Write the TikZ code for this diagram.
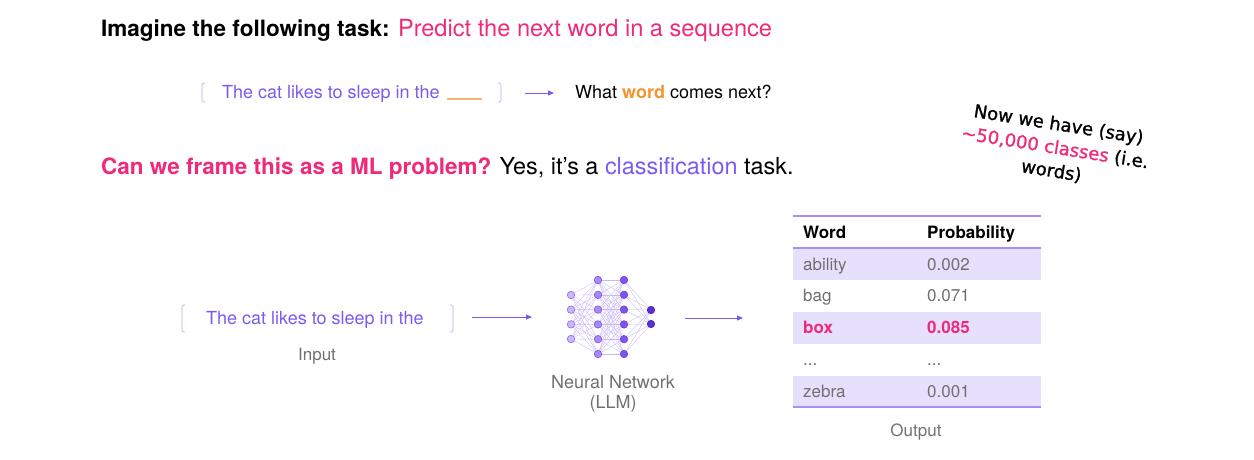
\documentclass[tikz,border=0pt]{standalone}
\usepackage{fontspec}
\setmainfont{TeX Gyre Heros}
\newfontfamily\handfont[FakeBold=1.2]{DejaVu Sans}
\usetikzlibrary{arrows.meta}
\definecolor{pinkc}{HTML}{EE2A7B}
\definecolor{purp}{HTML}{7A5AF0}
\definecolor{orng}{HTML}{F39530}
\definecolor{orngl}{HTML}{F7B46A}
\definecolor{rowshade}{HTML}{E6E0FC}
\definecolor{tline}{HTML}{A98EF5}
\definecolor{grayt}{HTML}{707070}
\definecolor{brk}{HTML}{B9ABEE}
\definecolor{edgec}{HTML}{C9B9F7}
\definecolor{nfA}{HTML}{C9B7F8}
\definecolor{ndA}{HTML}{8E6CF0}
\definecolor{nfB}{HTML}{A88AF2}
\definecolor{ndB}{HTML}{7A55EA}
\definecolor{nfC}{HTML}{7D55EA}
\definecolor{ndC}{HTML}{6A40E0}
\definecolor{nfD}{HTML}{5A30D0}
\definecolor{ndD}{HTML}{4A22C0}
\newcommand\myfs[1]{\fontsize{#1}{#1}\selectfont}
\begin{document}
\begin{tikzpicture}[x=1pt,y=-1pt,
  txt/.style={inner sep=0pt, anchor=base west},
  ctxt/.style={inner sep=0pt, anchor=base},
  bracket/.style={draw=brk, line width=0.7pt, rounded corners=1.5pt},
  arr/.style={draw=purp, line width=0.9pt, -{Triangle[length=6pt,width=5pt]}},
  hand/.style={inner sep=0pt, rotate=-9, align=center, font=\handfont\fontsize{18}{23.5}\selectfont},
  cell/.style={inner sep=0pt, anchor=base west, font=\myfs{17}, text=grayt},
  hcell/.style={inner sep=0pt, anchor=base west, font=\myfs{17}\bfseries, text=black},
  neuron/.style={circle, inner sep=0pt, minimum size=7.5pt, line width=0.6pt},
  syn/.style={draw=edgec, line width=0.35pt}
]
\useasboundingbox (0,0) rectangle (1254,459);

% title
\node[txt] (title) at (101,36) {\myfs{22.5}\bfseries Imagine the following task: \myfs{23.6}\mdseries\color{pinkc}Predict the next word in a sequence};

% line 2
\draw[bracket] (205,83) -- (202,83) -- (202,102) -- (205,102);
\draw[bracket] (498,83) -- (501,83) -- (501,102) -- (498,102);
\node[txt, text=purp, font=\myfs{18}] (seq) at (222,98) {The cat likes to sleep in the};
\draw[orngl, line width=1.6pt] (447,99) -- (482,99);
\coordinate (a1s) at (525,93);
\coordinate (a1e) at (554,93);
\draw[arr] (a1s) -- (a1e);
\node[txt, font=\myfs{18}] (what) at (575,98) {What \textcolor{orng}{\bfseries word} comes next?};

% line 3
\node[txt] (frame) at (101,174) {\myfs{22.5}\bfseries\color{pinkc}Can we frame this as a ML problem? \myfs{23.4}\mdseries\color{black}Yes, it’s a \textcolor{purp}{classification} task.};

% handwritten note
\node[hand] (note) at (1055,148) {Now we have (say)\\\textcolor{pinkc}{\textasciitilde50,000 classes} (i.e.\\words)};

% input
\draw[bracket] (185,305) -- (182,305) -- (182,332) -- (185,332);
\draw[bracket] (450,305) -- (453,305) -- (453,332) -- (450,332);
\node[txt, text=purp, font=\myfs{18}] (inp) at (206,324) {The cat likes to sleep in the};
\node[ctxt, text=grayt, font=\myfs{17}] (inplab) at (317,360) {Input};
\coordinate (a2s) at (472,317);
\coordinate (a2e) at (532,317);
\draw[arr] (a2s) -- (a2e);

% neural network
\foreach \i/\y in {1/295,2/309.67,3/324.33,4/339}
  \coordinate (A\i) at (571,\y);
\foreach \i/\y in {1/280,2/294.8,3/309.6,4/324.4,5/339.2,6/354}
  \coordinate (B\i) at (598,\y);
\foreach \i/\y in {1/280,2/294.8,3/309.6,4/324.4,5/339.2,6/354}
  \coordinate (C\i) at (624,\y);
\foreach \i/\y in {1/310,2/324}
  \coordinate (D\i) at (651,\y);
\foreach \i in {1,...,4} \foreach \j in {1,...,6} \draw[syn] (A\i) -- (B\j);
\foreach \i in {1,...,6} \foreach \j in {1,...,6} \draw[syn] (B\i) -- (C\j);
\foreach \i in {1,...,6} \foreach \j in {1,2} \draw[syn] (C\i) -- (D\j);
\foreach \i in {1,...,4}
  \node[neuron, fill=nfA, draw=ndA] (nA\i) at (A\i) {};
\foreach \i in {1,...,6}
  \node[neuron, fill=nfB, draw=ndB] (nB\i) at (B\i) {};
\foreach \i in {1,...,6}
  \node[neuron, fill=nfC, draw=ndC] (nC\i) at (C\i) {};
\foreach \i in {1,2}
  \node[neuron, fill=nfD, draw=ndD] (nD\i) at (D\i) {};
\node[ctxt, text=grayt, font=\myfs{18}] (nnl1) at (613,388) {Neural Network};
\node[ctxt, text=grayt, font=\myfs{18}] (nnl2) at (613,408) {(LLM)};
\coordinate (a3s) at (685,318);
\coordinate (a3e) at (743,318);
\draw[arr] (a3s) -- (a3e);

% table
\fill[rowshade] (793,248) rectangle (1041,279.5);
\fill[rowshade] (793,312) rectangle (1041,343.5);
\fill[rowshade] (793,375.5) rectangle (1041,407);
\draw[tline, line width=1.4pt] (793,216) -- (1041,216);
\draw[tline, line width=1.4pt] (793,248) -- (1041,248);
\draw[tline, line width=1.4pt] (793,407) -- (1041,407);
\node[hcell] (hw) at (803,238) {Word};
\node[hcell] (hp) at (927,238) {Probability};
\node[cell] (w1) at (803,270) {ability};
\node[cell] (p1) at (927,270) {0.002};
\node[cell] (w2) at (803,301.5) {bag};
\node[cell] (p2) at (927,301.5) {0.071};
\node[cell, text=pinkc, font=\myfs{17}\bfseries] (w3) at (803,333.5) {box};
\node[cell, text=pinkc, font=\myfs{17}\bfseries] (p3) at (927,333.5) {0.085};
\node[cell] (w4) at (803,365.5) {...};
\node[cell] (p4) at (927,365.5) {...};
\node[cell] (w5) at (803,397.5) {zebra};
\node[cell] (p5) at (927,397.5) {0.001};
\node[ctxt, text=grayt, font=\myfs{17}] (outl) at (916,436) {Output};
\end{tikzpicture}
\end{document}
